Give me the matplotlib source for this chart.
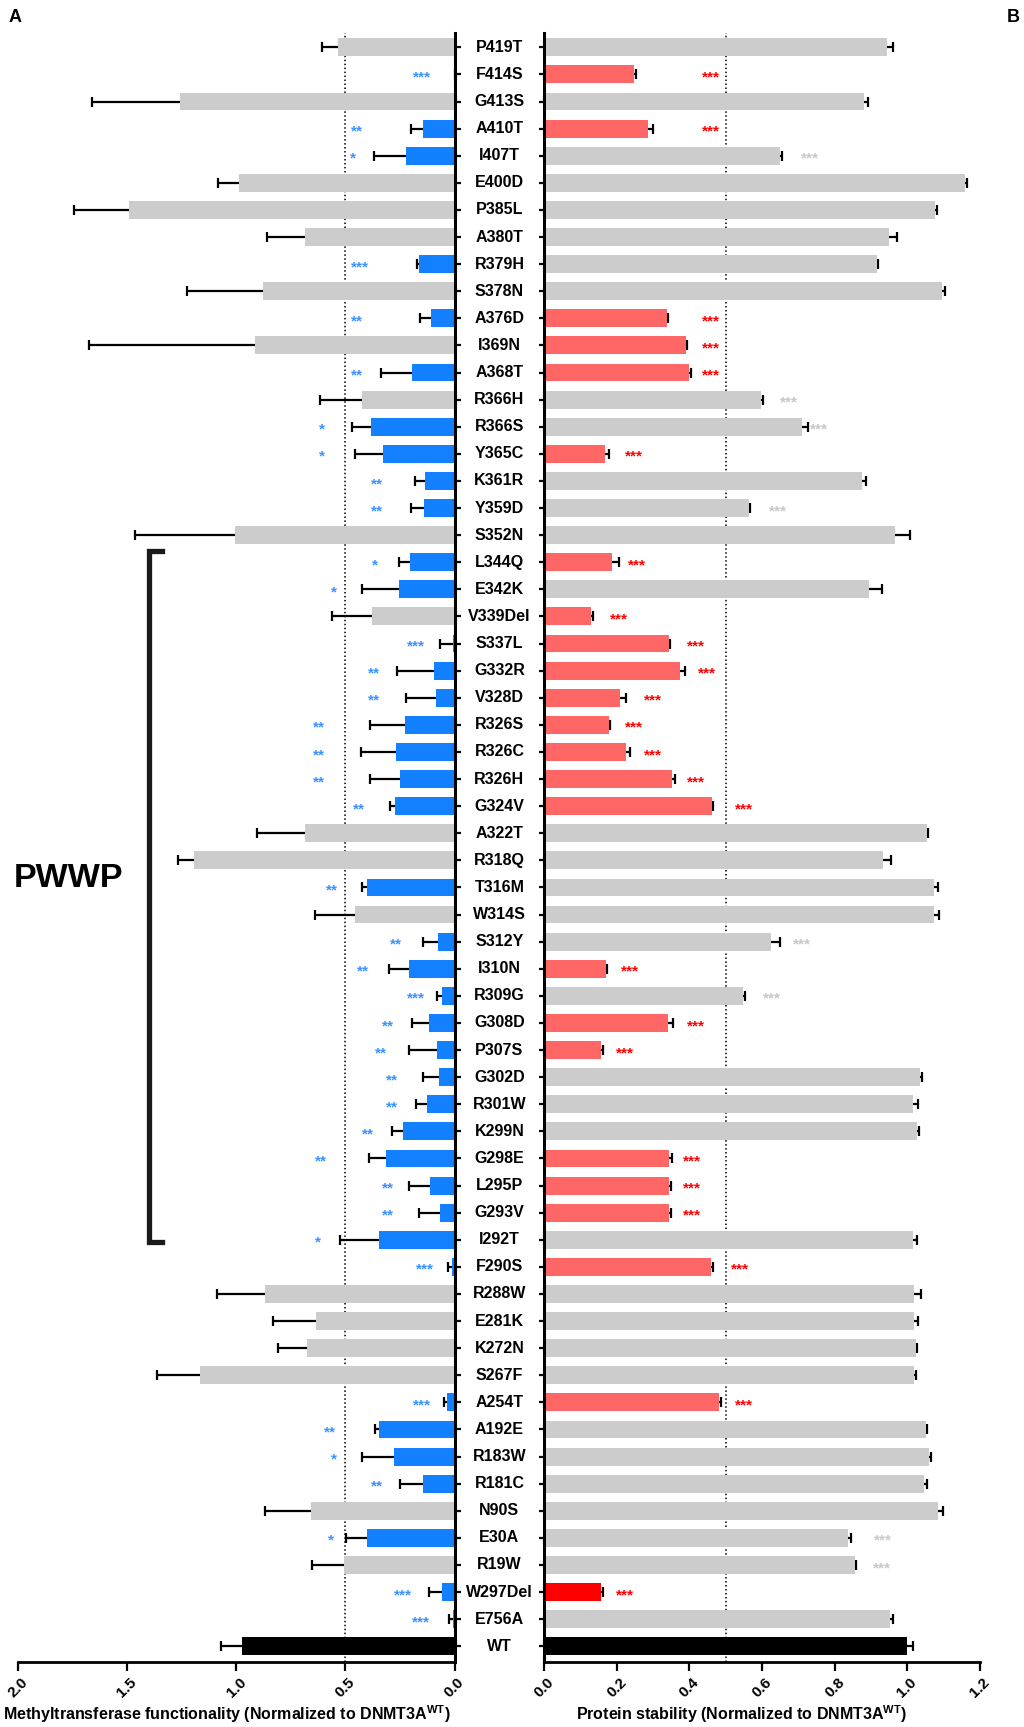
import numpy as np
import matplotlib.pyplot as plt
import matplotlib.transforms as mtransforms

plt.rcParams['font.family'] = 'Liberation Sans'
plt.rcParams['font.weight'] = 'bold'
plt.rcParams['mathtext.fontset'] = 'custom'
plt.rcParams['mathtext.rm'] = 'Liberation Sans:bold'
plt.rcParams['mathtext.bf'] = 'Liberation Sans:bold'

# DNMT3A variants, top to bottom
mutants = ['P419T', 'F414S', 'G413S', 'A410T', 'I407T', 'E400D', 'P385L', 'A380T',
           'R379H', 'S378N', 'A376D', 'I369N', 'A368T', 'R366H', 'R366S', 'Y365C',
           'K361R', 'Y359D', 'S352N', 'L344Q', 'E342K', 'V339Del', 'S337L', 'G332R',
           'V328D', 'R326S', 'R326C', 'R326H', 'G324V', 'A322T', 'R318Q', 'T316M',
           'W314S', 'S312Y', 'I310N', 'R309G', 'G308D', 'P307S', 'G302D', 'R301W',
           'K299N', 'G298E', 'L295P', 'G293V', 'I292T', 'F290S', 'R288W', 'E281K',
           'K272N', 'S267F', 'A254T', 'A192E', 'R183W', 'R181C', 'N90S', 'E30A',
           'R19W', 'W297Del', 'E756A', 'WT']

# methyltransferase functionality (mean, SEM), normalised to WT
mtase = [0.533, 0.0, 1.26, 0.144, 0.221, 0.986, 1.49, 0.687,
         0.163, 0.876, 0.109, 0.912, 0.197, 0.423, 0.382, 0.326,
         0.137, 0.141, 1.008, 0.203, 0.255, 0.380, 0.005, 0.094,
         0.086, 0.227, 0.270, 0.251, 0.271, 0.683, 1.195, 0.400,
         0.455, 0.074, 0.210, 0.059, 0.116, 0.082, 0.071, 0.126,
         0.235, 0.316, 0.114, 0.067, 0.346, 0.010, 0.868, 0.635,
         0.678, 1.166, 0.036, 0.346, 0.279, 0.143, 0.658, 0.403,
         0.505, 0.059, 0.005, 0.973]
mtase_err = [0.072, 0.0, 0.40, 0.057, 0.146, 0.097, 0.252, 0.173,
             0.009, 0.351, 0.049, 0.764, 0.139, 0.191, 0.089, 0.130,
             0.044, 0.060, 0.457, 0.050, 0.168, 0.181, 0.060, 0.168,
             0.136, 0.161, 0.158, 0.135, 0.025, 0.223, 0.072, 0.024,
             0.185, 0.072, 0.090, 0.021, 0.080, 0.125, 0.075, 0.049,
             0.053, 0.076, 0.096, 0.094, 0.178, 0.018, 0.220, 0.196,
             0.132, 0.195, 0.014, 0.016, 0.144, 0.106, 0.210, 0.096,
             0.150, 0.057, 0.018, 0.097]
mtase_sig = ['', '***', '', '**', '*', '', '', '',
             '***', '', '**', '', '**', '', '*', '*',
             '**', '**', '', '*', '*', '', '***', '**',
             '**', '**', '**', '**', '**', '', '', '**',
             '', '**', '**', '***', '**', '**', '**', '**',
             '**', '**', '**', '**', '*', '***', '', '',
             '', '', '***', '**', '*', '**', '', '*',
             '', '***', '***', '']
mtase_sig_x = [0, 0.150, 0, 0.449, 0.464, 0, 0, 0,
               0.433, 0, 0.449, 0, 0.449, 0, 0.606, 0.606,
               0.357, 0.357, 0, 0.366, 0.553, 0, 0.177, 0.368,
               0.368, 0.622, 0.622, 0.622, 0.438, 0, 0, 0.563,
               0, 0.268, 0.418, 0.177, 0.304, 0.337, 0.285, 0.285,
               0.395, 0.614, 0.304, 0.304, 0.625, 0.135, 0, 0,
               0, 0, 0.150, 0.571, 0.553, 0.357, 0, 0.567,
               0, 0.235, 0.152, 0]

# protein stability (mean, SEM), normalised to WT
stab = [0.944, 0.247, 0.880, 0.286, 0.650, 1.160, 1.076, 0.950,
        0.917, 1.096, 0.338, 0.390, 0.398, 0.596, 0.709, 0.168,
        0.876, 0.565, 0.967, 0.187, 0.895, 0.130, 0.345, 0.373,
        0.210, 0.177, 0.226, 0.351, 0.461, 1.056, 0.933, 1.073,
        1.075, 0.626, 0.170, 0.549, 0.341, 0.155, 1.035, 1.016,
        1.026, 0.344, 0.343, 0.344, 1.016, 0.460, 1.020, 1.020,
        1.024, 1.020, 0.481, 1.051, 1.061, 1.047, 1.086, 0.837,
        0.856, 0.156, 0.954, 1.000]
stab_err = [0.018, 0.006, 0.011, 0.014, 0.005, 0.006, 0.005, 0.023,
            0.004, 0.007, 0.004, 0.003, 0.005, 0.008, 0.017, 0.010,
            0.012, 0.002, 0.042, 0.020, 0.036, 0.004, 0.002, 0.014,
            0.014, 0.004, 0.010, 0.009, 0.005, 0.002, 0.023, 0.012,
            0.013, 0.024, 0.004, 0.003, 0.015, 0.007, 0.006, 0.013,
            0.007, 0.009, 0.005, 0.004, 0.010, 0.006, 0.017, 0.010,
            0.003, 0.004, 0.007, 0.004, 0.004, 0.009, 0.012, 0.007,
            0.003, 0.005, 0.006, 0.015]
stab_sig = ['', '***', '', '***', '***', '', '', '',
            '', '', '***', '***', '***', '***', '***', '***',
            '', '***', '', '***', '', '***', '***', '***',
            '***', '***', '***', '***', '***', '', '', '',
            '', '***', '***', '***', '***', '***', '', '',
            '', '***', '***', '***', '', '***', '', '',
            '', '', '***', '', '', '', '', '***',
            '***', '***', '', '']
stab_sig_x = [0, 0.459, 0, 0.459, 0.732, 0, 0, 0,
              0, 0, 0.459, 0.459, 0.459, 0.673, 0.758, 0.248,
              0, 0.645, 0, 0.255, 0, 0.207, 0.418, 0.448,
              0.300, 0.248, 0.300, 0.418, 0.551, 0, 0, 0,
              0, 0.711, 0.236, 0.628, 0.418, 0.223, 0, 0,
              0, 0.406, 0.406, 0.406, 0, 0.539, 0, 0,
              0, 0, 0.551, 0, 0, 0, 0, 0.933,
              0.931, 0.223, 0, 0]

BLUE = '#1380ff'
BLUE_STAR = '#3a93ff'
GREY = '#cccccc'
SALMON = '#ff6666'
RED = '#ff0000'

n = len(mutants)
y = np.arange(n)

mtase_col = []
stab_col = []
star_col = []
for i, m in enumerate(mutants):
    if m == 'WT':
        mtase_col.append('black')
        stab_col.append('black')
        star_col.append(GREY)
        continue
    mtase_col.append(BLUE if mtase_sig[i] else GREY)
    if stab_sig[i] and stab[i] < 0.5:
        stab_col.append(RED if m == 'W297Del' else SALMON)
        star_col.append(RED)
    else:
        stab_col.append(GREY)
        star_col.append('#c8c8c8')

W, H = 1024, 1727
fig = plt.figure(figsize=(W / 100, H / 100), dpi=100)
bot = 1 - 1662 / H
hgt = (1662 - 33) / H
ax1 = fig.add_axes([18 / W, bot, 436.5 / W, hgt])
ax2 = fig.add_axes([544.3 / W, bot, 435.4 / W, hgt])


def draw_panel(ax, vals, errs, cols, sig, sig_x, sig_cols):
    ax.axvline(0.5, color='black', ls=(0, (1, 1.6)), lw=1.1, zorder=0)
    ax.hlines(y, vals, np.array(vals) + np.array(errs), color='black', lw=1.6, zorder=1)
    ax.plot(np.array(vals) + np.array(errs), y, ls='none', marker='|', ms=7,
            mew=1.6, color='black', zorder=1)
    ax.barh(y, vals, height=0.66, color=cols, edgecolor='none', zorder=2)
    for i, s in enumerate(sig):
        if s:
            ax.text(sig_x[i], i + 0.26, s, ha='center', va='baseline', fontsize=11,
                    color=sig_cols[i], fontweight='bold', zorder=3)
    ax.set_ylim(59.58, -0.528)
    ax.set_yticks(y)
    ax.set_yticklabels([])
    ax.spines['top'].set_visible(False)
    ax.spines['bottom'].set_linewidth(2)
    ax.tick_params(axis='x', length=6.5, width=1.6, labelsize=11, pad=3)


draw_panel(ax1, mtase, mtase_err, mtase_col, mtase_sig, mtase_sig_x,
           [BLUE_STAR] * n)
ax1.set_xlim(2.0, 0.0)
ax1.spines['left'].set_visible(False)
ax1.spines['right'].set_linewidth(2.2)
ax1.yaxis.tick_right()
ax1.tick_params(axis='y', length=4.5, width=1.6, direction='out')
ax1.set_xticks([2.0, 1.5, 1.0, 0.5, 0.0])
ax1.set_xticklabels(['2.0', '1.5', '1.0', '0.5', '0.0'], rotation=45,
                    ha='center', va='top', fontweight='bold')

draw_panel(ax2, stab, stab_err, stab_col, stab_sig, stab_sig_x, star_col)
ax2.set_xlim(0.0, 1.2)
ax2.spines['right'].set_visible(False)
ax2.spines['left'].set_linewidth(2.2)
ax2.tick_params(axis='y', length=3.5, width=1.6, direction='out')
ax2.set_xticks([0.0, 0.2, 0.4, 0.6, 0.8, 1.0, 1.2])
ax2.set_xticklabels(['0.0', '0.2', '0.4', '0.6', '0.8', '1.0', '1.2'], rotation=45,
                    ha='center', va='top', fontweight='bold')

# variant names in the gap between the panels
trans = mtransforms.blended_transform_factory(fig.transFigure, ax1.transData)
for i, m in enumerate(mutants):
    ax1.text(499.4 / W, i, m, transform=trans, ha='center', va='center',
             fontsize=11.5, fontweight='bold', clip_on=False)

# PWWP domain bracket
ax1.plot([1.342, 1.40, 1.40, 1.342], [18.6, 18.6, 44.1, 44.1], color='#1a1a1a',
         lw=3.8, solid_joinstyle='miter', clip_on=False)
fig.text(68 / W, 1 - 878 / H, 'PWWP', ha='center', va='center', fontsize=24.5,
         fontweight='bold')

fig.text(15.5 / W, 1 - 18 / H, 'A', ha='center', va='center', fontsize=13, fontweight='bold')
fig.text(1013 / W, 1 - 18 / H, 'B', ha='center', va='center', fontsize=13, fontweight='bold')

fig.text(3 / W, 1 - 1714 / H,
         r'Methyltransferase functionality (Normalized to DNMT3A$^{\mathrm{WT}}$)',
         ha='left', va='center', fontsize=11.5, fontweight='bold')
fig.text(576 / W, 1 - 1714 / H,
         r'Protein stability (Normalized to DNMT3A$^{\mathrm{WT}}$)',
         ha='left', va='center', fontsize=11.5, fontweight='bold')

fig.savefig('out.png', dpi=100)
